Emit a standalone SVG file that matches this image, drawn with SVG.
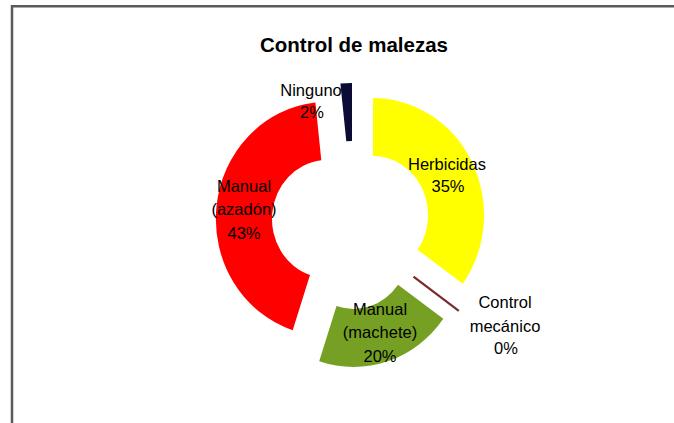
<svg xmlns="http://www.w3.org/2000/svg" width="674" height="423" viewBox="0 0 674 423">
<style>
.lbl{font-family:"Liberation Sans",Arial,sans-serif;font-size:16.5px;fill:#000;text-anchor:middle}
.title{font-family:"Liberation Sans",Arial,sans-serif;font-size:20.5px;font-weight:bold;fill:#000;text-anchor:middle}
</style>
<rect x="0" y="0" width="674" height="423" fill="#fff"/>
<path d="M12,423 V6.3 H674" fill="none" stroke="#5a5a5a" stroke-width="2.5"/>
<text class="title" x="354" y="52">Control de malezas</text>
<g id="herbicidas">
<path d="M373,98 A111,117 0 0 1 462.8,283.8 L417.5,249.7 A55,59 0 0 0 373,156 Z" fill="#ffff00"/>
<text class="lbl" x="447" y="170">Herbicidas</text>
<text class="lbl" x="448" y="192">35%</text>
</g>
<g id="control-mecanico">
<line x1="413.5" y1="276.7" x2="458.8" y2="310.8" stroke="#7a2a2a" stroke-width="2.2"/>
<text class="lbl" x="505" y="308">Control</text>
<text class="lbl" x="505" y="332">mecánico</text>
<text class="lbl" x="506" y="354">0%</text>
</g>
<g id="manual-machete">
<path d="M443.3,318.8 A111,117 0 0 1 319.2,361.3 L336.5,306.1 A55,59 0 0 0 398,284.7 Z" fill="#76a023"/>
<text class="lbl" x="380" y="315">Manual</text>
<text class="lbl" x="380" y="338">(machete)</text>
<text class="lbl" x="380" y="362">20%</text>
</g>
<g id="manual-azadon">
<path d="M292.7,330.3 A111,117 0 0 1 315.4,102.6 L321.3,160.3 A55,59 0 0 0 310,275.1 Z" fill="#ff0000"/>
<text class="lbl" x="244" y="192">Manual</text>
<text class="lbl" x="244" y="215">(azadón)</text>
<text class="lbl" x="244" y="239">43%</text>
</g>
<g id="ninguno">
<path d="M340.4,83.6 A111,117 0 0 1 352,83 L352,141 A55,59 0 0 0 346.3,141.3 Z" fill="#0b0b33"/>
<text class="lbl" x="311" y="96">Ninguno</text>
<text class="lbl" x="312" y="118">2%</text>
</g>
</svg>
